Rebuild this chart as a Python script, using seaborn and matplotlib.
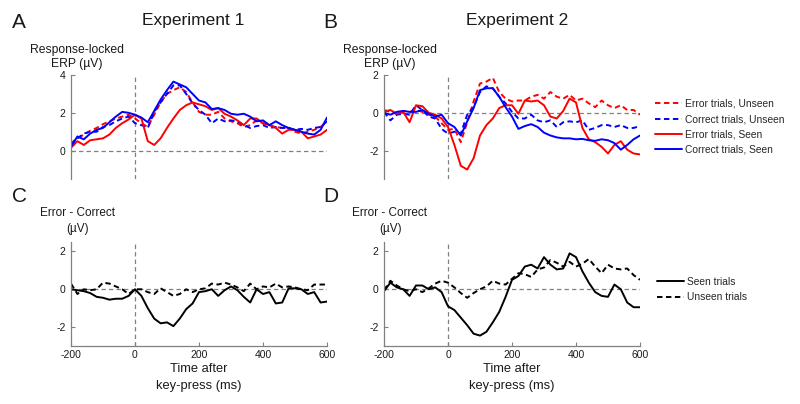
import matplotlib
matplotlib.use("Agg")
import matplotlib.pyplot as plt
import seaborn as sns
import pandas as pd

# %%
# values read off the figure, sampled every 20 ms
time_ms = list(range(-200, 601, 20))

# Experiment 1, response-locked ERP (uV)
exp1_error_unseen = [0.4, 0.65, 0.85, 1.05, 1.2, 1.4, 1.55, 1.7, 1.8, 1.9,
                     1.7, 1.45, 1.25, 1.9, 2.55, 3.0, 3.2, 3.35, 3.1, 2.55,
                     2.05, 1.9, 1.9, 2.05, 1.7, 1.55, 1.45, 1.25, 1.35, 1.6,
                     1.45, 1.35, 1.25, 1.2, 1.2, 1.0, 0.9, 1.0, 1.1, 1.25, 1.55]
exp1_correct_unseen = [0.3, 0.65, 0.9, 1.0, 1.0, 1.25, 1.35, 1.55, 1.7, 1.8,
                       1.45, 1.35, 1.2, 2.05, 2.55, 3.0, 3.45, 3.45, 3.0, 2.5,
                       2.15, 1.9, 1.45, 1.7, 1.55, 1.6, 1.55, 1.35, 1.2, 1.3,
                       1.35, 1.2, 1.25, 1.2, 1.2, 1.1, 1.15, 1.1, 1.2, 1.25, 1.55]
exp1_error_seen = [0.15, 0.5, 0.3, 0.55, 0.6, 0.65, 0.85, 1.2, 1.45, 1.65,
                   1.9, 1.7, 0.5, 0.3, 0.65, 1.2, 1.7, 2.15, 2.4, 2.55,
                   2.45, 2.35, 2.15, 2.25, 1.95, 1.8, 1.6, 1.35, 1.7, 1.7,
                   1.45, 1.35, 1.2, 0.9, 1.1, 1.1, 1.0, 0.65, 0.75, 0.85, 1.1]
exp1_correct_seen = [0.2, 0.75, 0.6, 0.9, 1.1, 1.2, 1.5, 1.8, 2.05, 2.0,
                     1.9, 1.75, 1.5, 2.1, 2.7, 3.2, 3.65, 3.5, 3.35, 3.0,
                     2.65, 2.55, 2.2, 2.25, 2.15, 1.95, 1.9, 1.95, 1.8, 1.55,
                     1.6, 1.35, 1.55, 1.35, 1.2, 1.1, 1.0, 0.9, 0.85, 1.1, 1.75]

# Experiment 2, response-locked ERP (uV)
exp2_error_unseen = [0.15, 0.05, -0.05, 0.1, 0.05, 0.15, 0.05, -0.1, -0.2, -0.55,
                     -0.9, -0.85, -1.55, -0.5, 0.6, 1.55, 1.65, 1.85, 1.1, 0.75,
                     0.6, 0.65, 0.65, 0.85, 0.95, 0.75, 1.1, 0.85, 0.75, 0.95,
                     0.65, 0.75, 0.5, 0.3, 0.65, 0.4, 0.25, 0.4, 0.15, 0.15, -0.1]
exp2_correct_unseen = [0.05, -0.4, -0.1, -0.05, -0.1, 0.4, 0.15, -0.2, -0.3, -0.85,
                       -1.1, -1.0, -1.1, -0.1, 0.3, 1.1, 1.4, 1.3, 0.85, 0.5,
                       0.05, -0.3, -0.3, -0.1, -0.4, -0.5, -0.4, -0.75, -0.5, -0.45,
                       -0.5, -0.4, -0.9, -0.8, -0.65, -0.65, -0.75, -0.65, -0.8, -0.8, -0.7]
exp2_error_seen = [0.05, 0.15, -0.05, 0.05, -0.5, 0.4, 0.35, 0.0, -0.1, -0.3,
                   -0.75, -1.7, -2.8, -3.0, -2.4, -1.2, -0.65, -0.3, 0.25, 0.4,
                   0.4, -0.05, 0.65, 0.6, 0.65, 0.4, -0.2, -0.3, 0.1, 0.75,
                   0.55, -0.8, -1.4, -1.55, -1.8, -2.15, -1.7, -1.5, -1.95, -2.15, -2.2]
exp2_correct_seen = [0.0, -0.1, 0.05, 0.1, 0.05, 0.05, 0.15, -0.05, -0.2, -0.1,
                     -0.55, -0.75, -1.2, -0.45, 0.25, 1.2, 1.3, 1.3, 0.85, 0.3,
                     -0.2, -0.85, -0.7, -0.6, -0.75, -1.05, -1.2, -1.3, -1.35, -1.35,
                     -1.4, -1.38, -1.45, -1.48, -1.4, -1.45, -1.6, -1.95, -1.7, -1.4, -1.2]

# Error - Correct difference waves (uV)
exp1_diff_seen = [0.0, -0.05, -0.1, -0.2, -0.4, -0.45, -0.55, -0.5, -0.5, -0.35,
                  0.0, -0.35, -1.0, -1.55, -1.8, -1.75, -1.95, -1.55, -1.05, -0.75,
                  -0.15, -0.1, 0.0, -0.35, -0.05, 0.15, -0.05, -0.4, -0.7, 0.0,
                  -0.25, -0.15, -0.75, -0.7, 0.05, 0.05, 0.0, -0.25, -0.15, -0.7, -0.65]
exp1_diff_unseen = [0.3, -0.25, 0.0, -0.05, 0.0, 0.35, 0.3, 0.15, 0.0, -0.25,
                    0.0, 0.0, -0.15, -0.25, 0.05, -0.15, -0.35, -0.25, 0.0, -0.15,
                    0.0, 0.05, 0.3, 0.25, 0.35, 0.25, 0.1, -0.1, 0.3, 0.0,
                    0.15, 0.1, 0.3, 0.1, 0.15, 0.1, 0.0, -0.05, 0.25, 0.25, 0.25]
exp2_diff_seen = [-0.1, 0.35, 0.1, 0.0, -0.35, 0.2, 0.2, 0.0, 0.1, -0.15,
                  -0.9, -1.1, -1.5, -1.9, -2.35, -2.45, -2.25, -1.75, -1.2, -0.4,
                  0.5, 0.7, 1.2, 1.3, 1.1, 1.7, 1.3, 1.05, 1.1, 1.9,
                  1.7, 0.95, 0.35, -0.15, -0.35, -0.4, 0.25, 0.0, -0.7, -0.95, -0.95]
exp2_diff_unseen = [-0.05, 0.45, 0.2, 0.0, -0.1, 0.0, -0.15, 0.05, 0.3, 0.45,
                    0.35, 0.1, -0.2, -0.45, -0.2, 0.0, 0.15, 0.45, 0.3, 0.25,
                    0.55, 0.85, 0.8, 0.65, 1.05, 1.15, 1.55, 1.4, 1.2, 1.45,
                    1.2, 1.35, 1.6, 1.2, 0.85, 1.3, 1.1, 1.05, 1.1, 0.75, 0.5]

erp_labels = ["Error trials, Unseen", "Correct trials, Unseen",
              "Error trials, Seen", "Correct trials, Seen"]
diff_labels = ["Seen trials", "Unseen trials"]


def long_df(series, labels):
    frames = [pd.DataFrame({"time": time_ms, "uv": s, "cond": lab})
              for s, lab in zip(series, labels)]
    return pd.concat(frames, ignore_index=True)


df_a = long_df([exp1_error_unseen, exp1_correct_unseen, exp1_error_seen, exp1_correct_seen], erp_labels)
df_b = long_df([exp2_error_unseen, exp2_correct_unseen, exp2_error_seen, exp2_correct_seen], erp_labels)
df_c = long_df([exp1_diff_seen, exp1_diff_unseen], diff_labels)
df_d = long_df([exp2_diff_seen, exp2_diff_unseen], diff_labels)

# %%
sns.set_style("ticks")
plt.rcParams["font.family"] = ["Liberation Sans", "DejaVu Sans"]
plt.rcParams["axes.unicode_minus"] = False

W, H = 800, 404
fig = plt.figure(figsize=(8, 4.04), dpi=100)
TXT = "#1a1a1a"
GREY = "#808080"


def px_axes(left, top, right, bottom):
    return fig.add_axes([left / W, 1 - bottom / H, (right - left) / W, (bottom - top) / H])


def ftext(x, y, s, size, ha="center"):
    fig.text(x / W, 1 - y / H, s, fontsize=size, ha=ha, va="baseline", color=TXT)


axA = px_axes(71, 75, 327, 179)
axB = px_axes(384, 75, 640, 179)
axC = px_axes(71, 242, 327, 346)
axD = px_axes(384, 242, 640, 346)

erp_palette = {"Error trials, Unseen": "#ff0000", "Correct trials, Unseen": "#0000ff",
               "Error trials, Seen": "#ff0000", "Correct trials, Seen": "#0000ff"}
erp_dashes = {"Error trials, Unseen": (2.8, 1.8), "Correct trials, Unseen": (2.8, 1.8),
              "Error trials, Seen": "", "Correct trials, Seen": ""}
diff_dashes = {"Seen trials": "", "Unseen trials": (2.8, 1.8)}

for ax, df in [(axA, df_a), (axB, df_b)]:
    sns.lineplot(data=df, x="time", y="uv", hue="cond", style="cond",
                 hue_order=erp_labels, style_order=erp_labels,
                 palette=erp_palette, dashes=erp_dashes, lw=1.4,
                 estimator=None, errorbar=None, sort=False, ax=ax,
                 legend=(ax is axB))

for ax, df in [(axC, df_c), (axD, df_d)]:
    sns.lineplot(data=df, x="time", y="uv", style="cond", style_order=diff_labels,
                 dashes=diff_dashes, color="black", lw=1.4,
                 estimator=None, errorbar=None, sort=False, ax=ax,
                 legend=(ax is axD))

limits = {axA: ((-1.5, 4), [0, 2, 4]), axB: ((-3.5, 2), [-2, 0, 2]),
          axC: ((-3, 2.5), [-2, 0, 2]), axD: ((-3, 2.5), [-2, 0, 2])}

for ax, (ylim, yticks) in limits.items():
    ax.axhline(0, color=GREY, lw=0.9, ls=(0, (3.5, 2.5)), zorder=0.5)
    ax.axvline(0, color=GREY, lw=0.9, ls=(0, (3.5, 2.5)), zorder=0.5)
    ax.set_xlim(-200, 600)
    ax.set_ylim(*ylim)
    ax.set_yticks(yticks)
    ax.set_xlabel("")
    ax.set_ylabel("")
    ax.tick_params(direction="in", length=3, width=0.8, color=GREY,
                   labelsize=7.5, labelcolor=TXT, pad=4)
    for side in ["left", "bottom"]:
        ax.spines[side].set_color(GREY)
        ax.spines[side].set_linewidth(0.9)
    ax.set_facecolor("none")

for ax in [axA, axB]:
    sns.despine(ax=ax, bottom=True)
    ax.tick_params(axis="x", bottom=False, labelbottom=False)

for ax in [axC, axD]:
    sns.despine(ax=ax)
    ax.set_xticks([-200, 0, 200, 400, 600])
    ax.tick_params(axis="x", pad=3)

# legends on the right
h, l = axB.get_legend_handles_labels()
axB.legend(h, l, loc="upper left", bbox_to_anchor=(655 / W, 1 - 99 / H),
           bbox_transform=fig.transFigure, frameon=False, fontsize=7.4,
           handlelength=2.6, handletextpad=0.3, labelspacing=0.5,
           borderpad=0, borderaxespad=0)
h, l = axD.get_legend_handles_labels()
axD.legend(h, l, loc="upper left", bbox_to_anchor=(657 / W, 1 - 277 / H),
           bbox_transform=fig.transFigure, frameon=False, fontsize=7.4,
           handlelength=2.6, handletextpad=0.3, labelspacing=0.5,
           borderpad=0, borderaxespad=0)

# panel letters, titles and axis labels
ftext(12, 28.5, "A", 15, ha="left")
ftext(323, 28.5, "B", 15, ha="left")
ftext(12, 202, "C", 15, ha="left")
ftext(323, 202, "D", 15, ha="left")
ftext(193, 25, "Experiment 1", 12.5)
ftext(517, 25, "Experiment 2", 12.5)

for x in [77, 390]:
    ftext(x, 52.5, "Response-locked", 8.7)
    ftext(x, 67.5, "ERP (µV)", 8.7)
    ftext(x, 216.5, "Error - Correct", 8.5)
    ftext(x + 1, 232.5, "(µV)", 8.5)

for x in [199, 512]:
    ftext(x, 372.5, "Time after", 9.3)
    ftext(x, 389, "key-press (ms)", 9.3)

fig.savefig("out.png", dpi=100, facecolor="white")
